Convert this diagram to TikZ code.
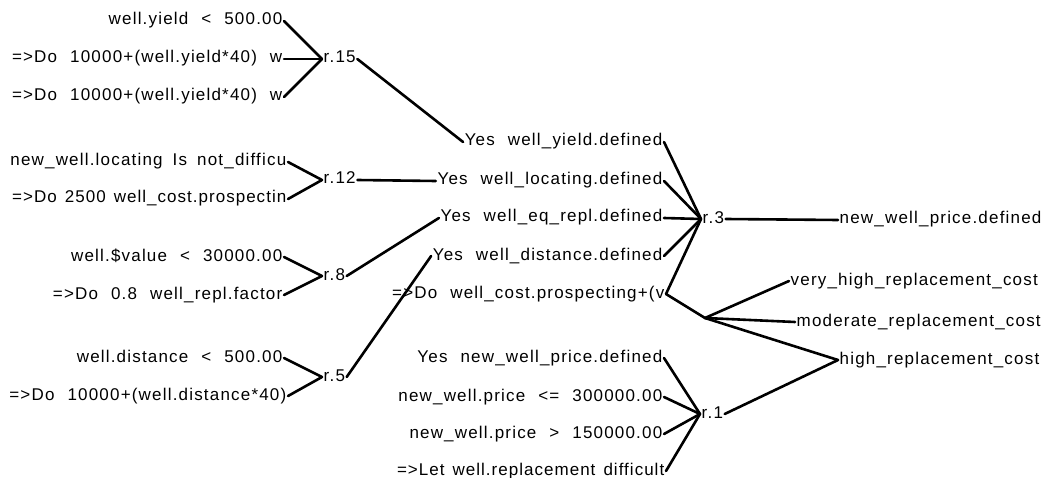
\documentclass[tikz,border=0pt]{standalone}
\usepackage{fontspec}
\setmainfont{Liberation Sans}[LetterSpace=7,WordSpace=2.2]
\newfontfamily\tightfont{Liberation Sans}[LetterSpace=6,WordSpace=1.4]
\newfontfamily\midfont{Liberation Sans}[LetterSpace=7,WordSpace=1.7]
\begin{document}
\begin{tikzpicture}[x=1pt,y=-1pt,
  lbl/.style={font=\fontsize{17}{20}\selectfont, inner xsep=1.5pt, inner ysep=0pt,
    text height=12pt, text depth=4pt, anchor=base east},
  rl/.style={font=\fontsize{17}{20}\selectfont, inner xsep=1.5pt, inner ysep=0pt,
    text height=12pt, text depth=4pt, anchor=base west},
  ln/.style={line width=2.6pt, line cap=round, line join=round}]
\useasboundingbox (0,0) rectangle (1056,478);
% left column
\node[lbl] (a1) at (284,25) {well.yield < 500.00};
\node[lbl] (a2) at (284,63) {=>Do 10000+(well.yield*40) w};
\node[lbl] (a3) at (284,101) {=>Do 10000+(well.yield*40) w};
\node[lbl] (b1) at (288,166) {\midfont new\_well.locating Is not\_difficu};
\node[lbl] (b2) at (288,203) {\tightfont =>Do 2500 well\_cost.prospectin};
\node[lbl] (c1) at (284,261) {well.\$value < 30000.00};
\node[lbl] (c2) at (284,299) {=>Do 0.8 well\_repl.factor};
\node[lbl] (d1) at (284,362) {well.distance < 500.00};
\node[lbl] (d2) at (288,400) {=>Do 10000+(well.distance*40)};
% rule labels
\node[rl] (r15) at (322,63) {r.15};
\node[rl] (r12) at (322,184) {r.12};
\node[rl] (r8) at (322,280) {r.8};
\node[rl] (r5) at (322,381) {r.5};
\node[rl] (r3) at (701,223) {r.3};
\node[rl] (r1) at (700,418) {r.1};
% middle column
\node[lbl] (m1) at (664,146) {Yes well\_yield.defined};
\node[lbl] (m2) at (664,185) {Yes well\_locating.defined};
\node[lbl] (m3) at (664,222) {Yes well\_eq\_repl.defined};
\node[lbl] (m4) at (664,260) {Yes well\_distance.defined};
\node[lbl] (m5) at (666,298) {=>Do well\_cost.prospecting+(v};
\node[lbl] (n1) at (664,362) {Yes new\_well\_price.defined};
\node[lbl] (n2) at (664,401) {new\_well.price <= 300000.00};
\node[lbl] (n3) at (664,438) {new\_well.price > 150000.00};
\node[lbl] (n4) at (666,475) {\tightfont =>Let well.replacement difficult};
% right column
\node[rl] (p1) at (838,224) {new\_well\_price.defined};
\node[rl] (q1) at (789,285) {very\_high\_replacement\_cost};
\node[rl] (q2) at (795,326) {moderate\_replacement\_cost};
\node[rl] (q3) at (838,364) {high\_replacement\_cost};
\coordinate (mg) at (705,318);
% connectors
\draw[ln] (a1.east) -- (r15.west);
\draw[ln] (a2.east) -- (r15.west);
\draw[ln] (a3.east) -- (r15.west);
\draw[ln] (b1.east) -- (r12.west);
\draw[ln] (b2.east) -- (r12.west);
\draw[ln] (c1.east) -- (r8.west);
\draw[ln] (c2.east) -- (r8.west);
\draw[ln] (d1.east) -- (r5.west);
\draw[ln] (d2.east) -- (r5.west);
\draw[ln] (r15.east) -- (m1.west);
\draw[ln] (r12.east) -- (m2.west);
\draw[ln] (r8.east) -- (m3.west);
\draw[ln] (r5.east) -- (m4.west);
\draw[ln] (m1.east) -- (r3.west);
\draw[ln] (m2.east) -- (r3.west);
\draw[ln] (m3.east) -- (r3.west);
\draw[ln] (m4.east) -- (r3.west);
\draw[ln] (m5.east) -- (r3.west);
\draw[ln] (r3.east) -- (p1.west);
\draw[ln] (m5.east) -- (mg);
\draw[ln] (mg) -- (q1.west);
\draw[ln] (mg) -- (q2.west);
\draw[ln] (mg) -- (q3.west);
\draw[ln] (n1.east) -- (r1.west);
\draw[ln] (n2.east) -- (r1.west);
\draw[ln] (n3.east) -- (r1.west);
\draw[ln] (n4.east) -- (r1.west);
\draw[ln] (r1.east) -- (q3.west);
\end{tikzpicture}
\end{document}
